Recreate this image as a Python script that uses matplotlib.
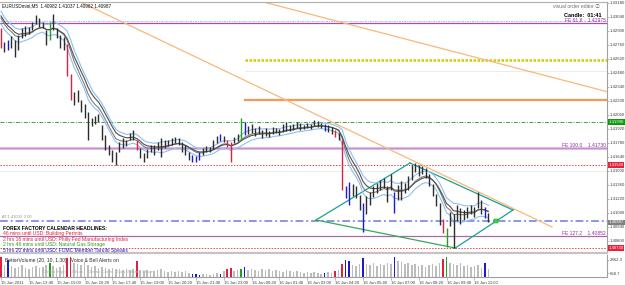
import numpy as np
import matplotlib.pyplot as plt
from matplotlib.transforms import blended_transform_factory

# ------------------------------------------------------------
# data (EURUSD M5, bars merged into 10 min)
# ------------------------------------------------------------
highs = [1.4293, 1.4279, 1.4281, 1.4285, 1.4281, 1.4286, 1.4293, 1.4295, 1.4294, 1.4299,
         1.4306, 1.4303, 1.4299, 1.4291, 1.4299, 1.4307, 1.4293, 1.4286, 1.4284, 1.4277,
         1.4247, 1.4229, 1.4231, 1.4221, 1.4217, 1.4209, 1.4203, 1.4205, 1.4207, 1.4196,
         1.4186, 1.4176, 1.4171, 1.4169, 1.4179, 1.4183, 1.4181, 1.4188, 1.4191, 1.4181,
         1.4173, 1.4168, 1.4172, 1.4176, 1.4176, 1.4179, 1.4183, 1.4181, 1.4181, 1.4183,
         1.4184, 1.4183, 1.4179, 1.4176, 1.4169, 1.4166, 1.4165, 1.4169, 1.4173, 1.4175,
         1.4174, 1.4181, 1.4185, 1.4187, 1.4185, 1.4181, 1.4179, 1.4184, 1.4187, 1.4203,
         1.4199, 1.4195, 1.4197, 1.4193, 1.4195, 1.4191, 1.4193, 1.4190, 1.4194, 1.4193,
         1.4192, 1.4197, 1.4199, 1.4196, 1.4197, 1.4199, 1.4198, 1.4196, 1.4198, 1.4197,
         1.4201, 1.4200, 1.4198, 1.4197, 1.4196, 1.4194, 1.4191, 1.4188, 1.4181, 1.4135,
         1.4139, 1.4137, 1.4135, 1.4126, 1.4118, 1.4125, 1.4129, 1.4135, 1.4138, 1.4141,
         1.4143, 1.4135, 1.4147, 1.4129, 1.4136, 1.4140, 1.4138, 1.4145, 1.4156, 1.4158,
         1.4156, 1.4155, 1.4153, 1.4147, 1.4137, 1.4127, 1.4118, 1.4102, 1.4093, 1.4109,
         1.4107, 1.4116, 1.4113, 1.4111, 1.4114, 1.4116, 1.4114, 1.4129, 1.4121, 1.4114,
         1.4108]
lows = [1.4273, 1.4269, 1.4271, 1.4273, 1.4264, 1.4271, 1.4283, 1.4285, 1.4287, 1.4291,
        1.4297, 1.4294, 1.4293, 1.4276, 1.4281, 1.4291, 1.4283, 1.4273, 1.4271, 1.4245,
        1.4221, 1.4216, 1.4219, 1.4209, 1.4203, 1.4181, 1.4195, 1.4197, 1.4199, 1.4181,
        1.4171, 1.4166, 1.4159, 1.4156, 1.4169, 1.4173, 1.4175, 1.4181, 1.4181, 1.4171,
        1.4163, 1.4159, 1.4163, 1.4169, 1.4166, 1.4171, 1.4164, 1.4173, 1.4175, 1.4176,
        1.4178, 1.4176, 1.4169, 1.4166, 1.4161, 1.4159, 1.4159, 1.4161, 1.4166, 1.4169,
        1.4169, 1.4172, 1.4178, 1.4180, 1.4179, 1.4174, 1.4159, 1.4178, 1.4180, 1.4181,
        1.4186, 1.4187, 1.4188, 1.4185, 1.4187, 1.4183, 1.4185, 1.4184, 1.4187, 1.4188,
        1.4186, 1.4189, 1.4190, 1.4190, 1.4191, 1.4193, 1.4191, 1.4192, 1.4193, 1.4192,
        1.4195, 1.4194, 1.4193, 1.4190, 1.4189, 1.4187, 1.4184, 1.4181, 1.4131, 1.4123,
        1.4116, 1.4125, 1.4123, 1.4111, 1.4089, 1.4107, 1.4116, 1.4124, 1.4128, 1.4131,
        1.4133, 1.4119, 1.4131, 1.4108, 1.4121, 1.4121, 1.4128, 1.4131, 1.4141, 1.4149,
        1.4145, 1.4147, 1.4143, 1.4135, 1.4125, 1.4115, 1.4096, 1.4088, 1.4074, 1.4095,
        1.4073, 1.4100, 1.4097, 1.4101, 1.4103, 1.4107, 1.4104, 1.4113, 1.4107, 1.4103,
        1.4099]
volumes = [3360, 2020, 2860, 1850, 1510, 1680, 2020, 1510, 1340, 1680,
           1850, 1510, 1680, 2020, 2350, 1850, 1510, 1680, 2020, 3190,
           3360, 2350, 2180, 2020, 2520, 2020, 1680, 1850, 1510, 1680,
           1510, 1340, 1510, 1340, 1340, 1180, 1340, 1180, 1340, 2690,
           1180, 1010, 1180, 1010, 1010, 1180, 1340, 1010, 840, 1010,
           840, 1010, 840, 1010, 670, 500, 500, 340, 500, 500,
           340, 500, 670, 500, 1010, 1340, 1510, 1010, 1180, 1340,
           1680, 1180, 1340, 1180, 1010, 1340, 1180, 1340, 1010, 1180,
           1010, 840, 1180, 1010, 840, 1010, 840, 670, 840, 670,
           840, 670, 500, 670, 840, 670, 1010, 1180, 2180, 2860,
           2690, 2020, 1850, 2180, 3190, 2180, 2020, 2350, 1850, 2180,
           2020, 2350, 2180, 3360, 2690, 2520, 2180, 2350, 2020, 2180,
           1850, 2020, 1680, 2020, 2180, 1850, 2350, 3020, 3360, 2350,
           2180, 2020, 2350, 1850, 2020, 1680, 1850, 2020, 1510, 2350,
           1340]
# volume-alert bars: r = climax, b = low volume / churn, g = climax churn
alert_bars = {0: 'r', 2: 'b', 14: 'g', 19: 'r', 20: 'r', 39: 'r', 55: 'b', 56: 'b',
              57: 'b', 63: 'b', 65: 'r', 66: 'r', 69: 'g', 70: 'b', 93: 'b', 96: 'r',
              98: 'r', 99: 'b', 100: 'b', 104: 'b', 113: 'b', 127: 'r', 128: 'g', 139: 'b'}
bar_minutes = np.arange(len(highs)) * 10          # minutes after 15 Jun 12:20

# moving averages: value at left edge of the chart
ma_start, ma_high_start, ma_low_start = 1.4309, 1.4314, 1.4303

# horizontal levels
fe_levels = [("FE 61.8", 1.42975), ("FE 100.0", 1.41730), ("FE 127.2", 1.40852)]
level_pending = 1.4300
level_yellow, level_gray, level_orange = 1.4261, 1.4250, 1.4221
level_green, level_red_hi, level_faint = 1.4199, 1.4156, 1.4150
level_blue, level_red_lo = 1.4100, 1.4073
bid = 1.40987
box_start_minute = 701

# trend lines (minute, price)
trend_a = [(150, 1.4332), (1583, 1.4094)]
trend_b = [(600, 1.4333), (1800, 1.4224)]
diamond = [(905, 1.4101), (1175, 1.4158), (1471, 1.4111), (1305, 1.4073)]
diamond_dot = (1422, 1.4100)

price_ticks = [1.4318, 1.4304, 1.4290, 1.4276, 1.4262, 1.4248, 1.4234, 1.4220, 1.4206,
               1.4192, 1.4178, 1.4164, 1.4150, 1.4136, 1.4122, 1.4108, 1.4094, 1.4080]
time_ticks = [0, 80, 160, 240, 320, 400, 480, 560, 640, 720, 800, 880, 960, 1040,
              1120, 1200, 1280, 1360]
time_labels = ["15 Jun 2011", "15 Jun 13:40", "15 Jun 15:00", "15 Jun 16:20", "15 Jun 17:40",
               "15 Jun 19:00", "15 Jun 20:20", "15 Jun 21:40", "15 Jun 23:00", "16 Jun 00:20",
               "16 Jun 01:40", "16 Jun 03:00", "16 Jun 04:20", "16 Jun 05:40", "16 Jun 07:00",
               "16 Jun 08:20", "16 Jun 09:40", "16 Jun 11:00"]
vol_ticks = [2862.3, 658.7]

headlines = [("FOREX FACTORY CALENDAR HEADLINES:", "#000000"),
             ("46 mins until USD: Building Permits", "#e0203c"),
             ("2 hrs 16 mins until USD: Philly Fed Manufacturing Index", "#e0203c"),
             ("2 hrs 46 mins until USD: Natural Gas Storage", "#20a020"),
             ("5 hrs 20 mins until USD: FOMC Member Tarullo Speaks", "#1a1ad0")]

# ------------------------------------------------------------
plt.rcParams['font.family'] = ['Liberation Sans Narrow', 'Liberation Sans', 'Noto Sans CJK JP']
COL = {'r': '#e0203c', 'b': '#1a1ad0', 'g': '#20a020'}
FS = 3.6      # chart texts
FS_AX = 3.1   # axis labels (MT4 scale is very cramped)
W, H = 625, 285


def ema(values, period, seed):
    a = 2.0 / (period + 1)
    out, prev = [], seed
    for v in values:
        prev = prev + a * (v - prev)
        out.append(prev)
    return np.array(out)


highs = np.array(highs)
lows = np.array(lows)
median = (highs + lows) / 2

fig = plt.figure(figsize=(W / 100, H / 100), dpi=100)
ax = fig.add_axes([0, 1 - 253 / H, 607 / W, 251 / H])
axv = fig.add_axes([0, 1 - 277 / H, 607 / W, 22 / H])

xlim = (-2.9, 1741)
ax.set_xlim(*xlim)
ax.set_ylim(1.4068, 1.4319)
axv.set_xlim(*xlim)
axv.set_ylim(0, 3700)

# horizontal levels
ax.axhline(level_pending, color="#aab8e8", lw=0.7, ls=(0, (2, 1, 1, 1)))
ax.axhline(fe_levels[0][1], color="#b048b0", lw=0.9)
ax.plot([box_start_minute, xlim[1]], [level_yellow] * 2, color="#d8c800", lw=1.8, ls=(0, (1, 0.6)))
ax.plot([box_start_minute, xlim[1]], [level_gray] * 2, color="#ececec", lw=0.7)
ax.plot([box_start_minute, xlim[1]], [level_orange] * 2, color="#f49a58", lw=1.6)
ax.axhline(level_green, color="#40a040", lw=0.7, ls=(0, (4, 1.5, 1, 1.5)))
ax.axhline(fe_levels[1][1], color="#dcb4e4", lw=2.0)
ax.axhline(fe_levels[1][1], color="#c080c8", lw=0.5)
ax.axhline(level_red_hi, color="#e04848", lw=0.7, ls=(0, (1.5, 1.5)))
ax.axhline(level_faint, color="#eeeeee", lw=0.7)
ax.axhline(level_blue, color="#8898e4", lw=1.4, ls=(0, (4, 1.5, 1, 1.5)))
ax.axhline(fe_levels[2][1], color="#a868b0", lw=0.9)
ax.axhline(level_red_lo, color="#e04848", lw=0.7, ls=(0, (1.5, 1.5)))

# trend lines
ax.plot(*zip(*trend_a), color="#f8b878", lw=0.9)
ax.plot(*zip(*trend_b), color="#f8b878", lw=0.9)
d = diamond
for p, q in [(d[0], d[1]), (d[1], d[2]), (d[2], d[3])]:
    ax.plot([p[0], q[0]], [p[1], q[1]], color="#1aa09a", lw=0.9)
ax.plot([d[3][0], d[0][0]], [d[3][1], d[0][1]], color="#38a858", lw=0.9)
ax.plot(*diamond_dot, marker="s", ms=2.2, color="#30e030", mec="#208020", mew=0.3)

# moving averages
ax.plot(bar_minutes, ema(highs, 9, ma_high_start), color="#8cc0f0", lw=0.8)
ax.plot(bar_minutes, ema(lows, 9, ma_low_start), color="#8cc0f0", lw=0.8)
ax.plot(bar_minutes, ema(median, 8, ma_start), color="#808080", lw=0.8)
ax.plot(bar_minutes, ema(median, 10, ma_start + 0.0001), color="#505050", lw=0.8)

# price bars
bar_cols = [COL.get(alert_bars.get(i), "#2c2c2c") for i in range(len(highs))]
ax.vlines(bar_minutes, lows, highs, colors=bar_cols, lw=1.0)

# volume bars
vol_cols = [COL.get(alert_bars.get(i), "#bcbcbc") for i in range(len(volumes))]
axv.bar(bar_minutes, volumes, width=4.5, color=vol_cols, linewidth=0)

# axes cosmetics
for a in (ax, axv):
    a.set_facecolor("white")
    a.spines["left"].set_visible(False)
    a.spines["right"].set_color("#a0a0a0")
    a.spines["right"].set_linewidth(0.8)
    a.yaxis.tick_right()
    a.tick_params(axis="y", labelsize=FS_AX, length=1.2, width=0.5, pad=0.6,
                  colors="#a0a0a0", labelcolor="#404040")
ax.spines["top"].set_color("#b0b0b0")
ax.spines["bottom"].set_color("#c4c4c4")
ax.spines["bottom"].set_linewidth(1.6)
axv.spines["top"].set_visible(False)
axv.spines["bottom"].set_color("#a0a0a0")
axv.spines["bottom"].set_linewidth(0.8)
ax.set_xticks([])
ax.set_yticks(price_ticks)
ax.set_yticklabels([f"{p:.5f}" for p in price_ticks])
axv.set_yticks(vol_ticks)
axv.set_yticklabels([f"{v:.1f}" for v in vol_ticks])
axv.set_xticks(time_ticks)
axv.set_xticklabels(time_labels, ha="left")
axv.tick_params(axis="x", labelsize=FS_AX, length=2, width=0.5, pad=1,
                colors="#a0a0a0", labelcolor="#404040")

# right-hand price boxes
tr = blended_transform_factory(ax.transAxes, ax.transData)
for val, face, txt in [(level_green, "#109810", "white"), (level_red_hi, "#e8203c", "white"),
                       (bid, "#808080", "white"), (level_red_lo, "#e8203c", "white")]:
    ax.text(1.003, val, f"{val:.5f}", transform=tr, fontsize=FS_AX, color=txt, va="center",
            ha="left", clip_on=False,
            bbox=dict(boxstyle="square,pad=0.12", fc=face, ec="none"))

# fibo labels
for name, val in fe_levels:
    ax.text(0.998, val, f"{name}    {val:.5f}", transform=tr, fontsize=FS, color="#9030a0",
            ha="right", va="bottom")

# chart texts
ax.text(0.004, 0.995, "EURUSDmini,M5  1.40982 1.41037 1.40962 1.40987", transform=ax.transAxes,
        fontsize=FS_AX + 0.2, va="top", ha="left", color="#101010")
ax.text(0.988, 0.992, "visual order editor \u24d8", transform=ax.transAxes, fontsize=FS,
        va="top", ha="right", color="#707070")
ax.text(0.991, 0.955, "Candle:  01:41", transform=ax.transAxes, fontsize=FS + 0.4, va="top",
        ha="right", color="#000000", fontweight="bold")
ax.text(0.004, level_blue + 0.0002, "AT:1.41000  2.00", transform=tr, fontsize=FS - 0.8,
        color="#909090", va="bottom")
for k, (line, c) in enumerate(headlines):
    fig.text(3 / W, 1 - (228 + 5.6 * k) / H, line, fontsize=FS, color=c, va="center",
             fontweight="bold" if k == 0 else "normal")

axv.text(0.008, 0.85, "BetterVolume (20, 10, 1.30)   Voice & Bell Alerts on", transform=axv.transAxes,
         fontsize=FS, va="top", color="#303030")
axv.text(0.07, 0.22, "Climax High     Churn   Climax Churn   Low Volume Churn", transform=axv.transAxes,
         fontsize=FS - 0.4, va="center", color="#b0b0b0")

fig.savefig("out.png", dpi=100)
